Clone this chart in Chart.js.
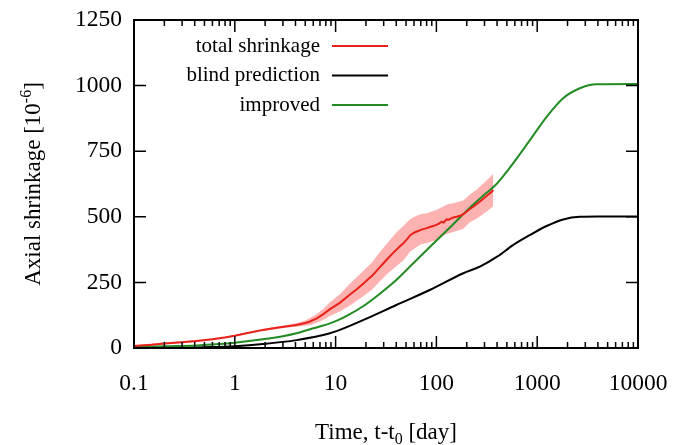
<!DOCTYPE html>
<html>
<head>
<meta charset="utf-8">
<script src="https://cdn.jsdelivr.net/npm/chart.js@4/dist/chart.umd.min.js"></script>
<style>
  body { margin: 0; background: #fff; }
  canvas { display: block; }
</style>
</head>
<body>
<canvas id="shrinkageChart" width="690" height="445" style="width:690px;height:445px"></canvas>
<script>
// measured data, total shrinkage (10^-6) vs time t-t0 (day)
const redT = [0.1, 0.15, 0.2, 0.3, 0.42, 0.6, 0.8, 1, 1.3, 1.9, 2.5, 3.2, 4.1, 5, 5.5, 6.5, 7.5, 8.8,
    11, 14, 16, 18.9, 21, 23, 25, 27.5, 30, 33, 36, 40, 43, 47, 52, 55, 58.6, 62, 66, 70,
    74, 80, 86, 93, 100, 106, 112, 118, 126, 133, 140, 150, 159, 168, 175, 185, 200, 215, 235, 250,
    270, 290, 310, 330, 350, 367];
const redY = [8, 12, 17, 22, 27, 33, 40, 47, 56, 69, 76, 82, 88, 95, 100, 113, 128, 148,
    172, 205, 222, 246, 262, 275, 290, 308, 324, 341, 357, 374, 386, 399, 418, 430, 437, 442, 446, 450,
    453, 457, 461, 465, 469, 474, 481, 478, 490, 489, 494, 498, 500, 503, 505, 510, 520, 530, 540, 548,
    558, 568, 577, 586, 594, 602];

// scatter band round the measurement
const bandT = [0.1, 0.5, 1, 2, 3.2, 4.1, 5, 5.5, 6.5, 7.5, 8.8, 11, 14, 18.9, 23, 27.5, 33, 40, 47, 55,
    62, 70, 80, 100, 126, 150, 185, 215, 250, 290, 330, 367];
const bandLow = [5, 27, 44, 66, 77, 81, 85, 87, 96, 107, 122, 139, 163, 198, 223, 254, 285, 312, 333, 368,
    382, 394, 400, 412, 434, 443, 454, 479, 493, 510, 526, 540];
const bandHigh = [11, 33, 50, 74, 87, 95, 105, 113, 130, 149, 174, 205, 247, 294, 327, 366, 402, 440, 465, 492,
    502, 510, 514, 526, 546, 553, 562, 585, 603, 626, 646, 664];

// blind prediction
const blindT = [0.1, 0.3, 0.5, 1, 1.9, 4.1, 8.8, 11, 18.9, 40, 86, 185, 270, 400, 580, 850, 1240, 1810, 2650, 4000, 10000];
const blindY = [0, 1, 3, 7, 15, 30, 56, 69, 107, 164, 221, 285, 310, 348, 393, 431, 465, 490, 500, 501, 501];

// improved prediction
const improvedT = [0.1, 0.2, 0.42, 0.7, 1, 1.9, 3, 4.1, 6, 8.8, 11, 14, 18.9, 27.5, 40, 58.6, 86, 137, 215, 290,
    384, 537, 850, 1240, 1810, 2650, 3870, 10000];
const improvedY = [4, 7, 10, 15, 20, 33, 45, 56, 75, 94, 109, 130, 160, 207, 259, 322, 385, 460, 535, 580,
    620, 688, 793, 881, 952, 990, 1005, 1006];

const xTicks = [0.1, 1, 10, 100, 1000, 10000];
const yTicks = [0, 250, 500, 750, 1000, 1250];

const legendItems = [
    { label: "total shrinkage", color: "#e8211a" },
    { label: "blind prediction", color: "#000000" },
    { label: "improved", color: "#228b22" }
];

const serif = "'Liberation Serif', 'DejaVu Serif', serif";

function pts(xs, ys) {
    return xs.map((x, i) => ({ x: x, y: ys[i] }));
}

// gnuplot-like frame, inward ticks, legend and axis titles
const framePlugin = {
    id: "frame",
    afterDraw(chart) {
        const { ctx, chartArea: a, scales: { x, y } } = chart;
        ctx.save();
        ctx.strokeStyle = "#000";
        ctx.lineWidth = 1.5;
        ctx.beginPath();
        xTicks.forEach((d, i) => {
            const px = x.getPixelForValue(d);
            ctx.moveTo(px, a.bottom); ctx.lineTo(px, a.bottom - 12);
            ctx.moveTo(px, a.top); ctx.lineTo(px, a.top + 12);
            if (i < xTicks.length - 1) {
                for (let k = 2; k <= 9; k++) {
                    const mx = x.getPixelForValue(k * d);
                    ctx.moveTo(mx, a.bottom); ctx.lineTo(mx, a.bottom - 6);
                    ctx.moveTo(mx, a.top); ctx.lineTo(mx, a.top + 6);
                }
            }
        });
        yTicks.forEach(v => {
            const py = y.getPixelForValue(v);
            ctx.moveTo(a.left, py); ctx.lineTo(a.left + 12, py);
            ctx.moveTo(a.right, py); ctx.lineTo(a.right - 12, py);
        });
        ctx.stroke();
        ctx.lineWidth = 2;
        ctx.strokeRect(a.left, a.top, a.right - a.left, a.bottom - a.top);

        // legend: text on the left, sample line on the right
        ctx.font = "21px " + serif;
        ctx.fillStyle = "#000";
        ctx.textAlign = "right";
        ctx.textBaseline = "middle";
        legendItems.forEach((item, i) => {
            const ly = 46 + i * 29.5;
            ctx.fillText(item.label, 320, ly);
            ctx.strokeStyle = item.color;
            ctx.lineWidth = 2;
            ctx.beginPath();
            ctx.moveTo(332, ly); ctx.lineTo(388, ly);
            ctx.stroke();
        });

        // x title with subscript
        ctx.fillStyle = "#000";
        ctx.textAlign = "left";
        ctx.textBaseline = "alphabetic";
        const big = "23px " + serif, small = "16px " + serif;
        ctx.font = big;
        const xa = "Time, t-t", xc = " [day]";
        const wa = ctx.measureText(xa).width, wc = ctx.measureText(xc).width;
        ctx.font = small;
        const wb = ctx.measureText("0").width;
        const sx = (a.left + a.right) / 2 - (wa + wb + wc) / 2;
        const by = 439;
        ctx.font = big; ctx.fillText(xa, sx, by);
        ctx.font = small; ctx.fillText("0", sx + wa, by + 5);
        ctx.font = big; ctx.fillText(xc, sx + wa + wb, by);

        // y title with superscript, rotated
        ctx.translate(40, (a.top + a.bottom) / 2);
        ctx.rotate(-Math.PI / 2);
        ctx.font = big;
        const ya = "Axial shrinkage [10", yc = "]";
        const ywa = ctx.measureText(ya).width, ywc = ctx.measureText(yc).width;
        ctx.font = small;
        const ywb = ctx.measureText("-6").width;
        const tx = -(ywa + ywb + ywc) / 2;
        ctx.font = big; ctx.fillText(ya, tx, 0);
        ctx.font = small; ctx.fillText("-6", tx + ywa, -9);
        ctx.font = big; ctx.fillText(yc, tx + ywa + ywb, 0);
        ctx.restore();
    }
};

new Chart(document.getElementById("shrinkageChart"), {
    type: "line",
    data: {
        datasets: [
            {
                label: "total shrinkage",
                data: pts(redT, redY),
                borderColor: "#e8211a",
                borderWidth: 2,
                pointRadius: 0,
                tension: 0,
                fill: false
            },
            {
                label: "improved",
                data: pts(improvedT, improvedY),
                borderColor: "#228b22",
                borderWidth: 2,
                pointRadius: 0,
                cubicInterpolationMode: "monotone",
                fill: false
            },
            {
                label: "blind prediction",
                data: pts(blindT, blindY),
                borderColor: "#000000",
                borderWidth: 2,
                pointRadius: 0,
                cubicInterpolationMode: "monotone",
                fill: false
            },
            {
                label: "band high",
                data: pts(bandT, bandHigh),
                borderWidth: 0,
                borderColor: "rgba(0,0,0,0)",
                backgroundColor: "#fbb2b0",
                pointRadius: 0,
                tension: 0,
                fill: "+1"
            },
            {
                label: "band low",
                data: pts(bandT, bandLow),
                borderWidth: 0,
                borderColor: "rgba(0,0,0,0)",
                pointRadius: 0,
                tension: 0,
                fill: false
            }
        ]
    },
    options: {
        responsive: false,
        animation: false,
        layout: { padding: { left: 0, right: 52, top: 20, bottom: 0 } },
        plugins: {
            legend: { display: false },
            tooltip: { enabled: false }
        },
        scales: {
            x: {
                type: "logarithmic",
                min: 0.1,
                max: 10000,
                afterBuildTicks: s => { s.ticks = xTicks.map(v => ({ value: v })); },
                afterFit: s => { s.height = 97; },
                grid: { display: false, drawTicks: false },
                border: { display: false },
                ticks: {
                    callback: v => String(v),
                    color: "#000",
                    font: { family: serif, size: 23.5 },
                    padding: 22,
                    maxRotation: 0,
                    autoSkip: false
                }
            },
            y: {
                min: 0,
                max: 1250,
                afterBuildTicks: s => { s.ticks = yTicks.map(v => ({ value: v })); },
                afterFit: s => { s.width = 134; s.paddingTop = 0; s.paddingBottom = 0; },
                grid: { display: false, drawTicks: false },
                border: { display: false },
                ticks: {
                    callback: v => String(v),
                    color: "#000",
                    font: { family: serif, size: 23.5 },
                    padding: 12
                }
            }
        }
    },
    plugins: [framePlugin]
});
</script>
</body>
</html>
